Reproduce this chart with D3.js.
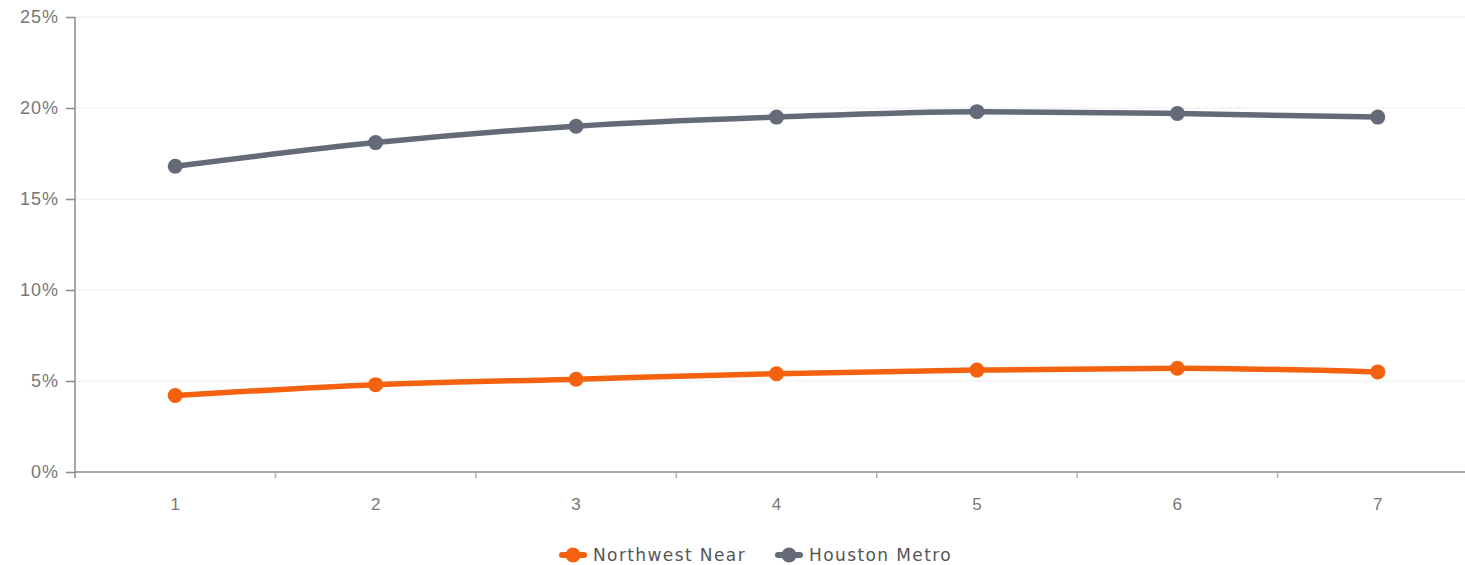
<!DOCTYPE html>
<html>
<head>
<meta charset="utf-8">
<script src="https://cdn.jsdelivr.net/npm/d3@7"></script>
<style>
  body { margin: 0; background: #fff; }
  svg { font-family: "DejaVu Sans", "Open Sans", sans-serif; }
</style>
</head>
<body>
<svg width="1465" height="565"></svg>
<script>
var periods = [1, 2, 3, 4, 5, 6, 7];
var northwestNear = [4.2, 4.8, 5.1, 5.4, 5.6, 5.7, 5.5];
var houstonMetro = [16.8, 18.1, 19.0, 19.5, 19.8, 19.7, 19.5];
var yTicks = [0, 5, 10, 15, 20, 25];

var series = [
  { name: "Northwest Near", values: northwestNear, color: "#f4620f" },
  { name: "Houston Metro", values: houstonMetro, color: "#646a78" }
];

var svg = d3.select("svg");
var mLeft = 75, mRight = 1478, mTop = 17, mBottom = 472;

var x = d3.scaleBand().domain(periods).range([mLeft, mRight]);
var y = d3.scaleLinear().domain([0, 25]).range([mBottom, mTop]);

// grid lines
svg.append("g").selectAll("line")
  .data(yTicks.slice(1))
  .enter().append("line")
  .attr("x1", mLeft).attr("x2", 1465)
  .attr("y1", function(d) { return y(d); })
  .attr("y2", function(d) { return y(d); })
  .attr("stroke", "#ececec")
  .attr("stroke-width", 1);

// y axis
var yAxis = svg.append("g")
  .attr("transform", "translate(" + mLeft + ",0)")
  .call(d3.axisLeft(y).tickValues(yTicks).tickSize(9).tickSizeOuter(0)
    .tickFormat(function(d) { return d + "%"; }));
yAxis.select(".domain").attr("stroke", "#8a8a8a").attr("stroke-width", 1.5)
  .attr("d", "M0," + mTop + "V" + (mBottom + 6));
yAxis.selectAll(".tick line").attr("stroke", "#8a8a8a").attr("stroke-width", 1.5);
yAxis.selectAll(".tick text").attr("fill", "#777").style("font-size", "18px")
  .style("letter-spacing", "1px").attr("x", -16);

// x axis
var xAxis = svg.append("g")
  .attr("transform", "translate(0," + mBottom + ")")
  .call(d3.axisBottom(x).tickSize(0).tickSizeOuter(0));
xAxis.select(".domain").attr("stroke", "#8a8a8a").attr("stroke-width", 1.5)
  .attr("d", "M" + mLeft + ",0H1465");
xAxis.selectAll(".tick text").attr("fill", "#777").style("font-size", "17px")
  .attr("y", 38).attr("dy", 0);
xAxis.selectAll(".bound")
  .data(periods.slice(1))
  .enter().append("line")
  .attr("x1", function(d) { return x(d); })
  .attr("x2", function(d) { return x(d); })
  .attr("y1", 0).attr("y2", 6)
  .attr("stroke", "#b0b0b0").attr("stroke-width", 1.5);

// lines and points
var cx = function(d, i) { return x(periods[i]) + x.bandwidth() / 2; };
var line = d3.line()
  .x(cx)
  .y(function(d) { return y(d); })
  .curve(d3.curveMonotoneX);

series.forEach(function(s) {
  var g = svg.append("g");
  g.append("path")
    .datum(s.values)
    .attr("d", line)
    .attr("fill", "none")
    .attr("stroke", s.color)
    .attr("stroke-width", 5.5)
    .attr("stroke-linejoin", "round");
  g.selectAll("circle")
    .data(s.values)
    .enter().append("circle")
    .attr("cx", cx)
    .attr("cy", function(d) { return y(d); })
    .attr("r", 7.5)
    .attr("fill", s.color);
});

// legend
var legend = svg.append("g").attr("transform", "translate(558,555)");
var lx = [0, 216];
series.forEach(function(s, i) {
  var item = legend.append("g").attr("transform", "translate(" + lx[i] + ",0)");
  item.append("line")
    .attr("x1", 4).attr("x2", 26)
    .attr("stroke", s.color).attr("stroke-width", 6).attr("stroke-linecap", "round");
  item.append("circle").attr("cx", 15).attr("r", 7.5).attr("fill", s.color);
  item.append("text")
    .attr("x", 35).attr("dy", "0.36em")
    .attr("fill", "#555")
    .style("font-size", "17px")
    .style("letter-spacing", "1.4px")
    .text(s.name);
});
</script>
</body>
</html>
